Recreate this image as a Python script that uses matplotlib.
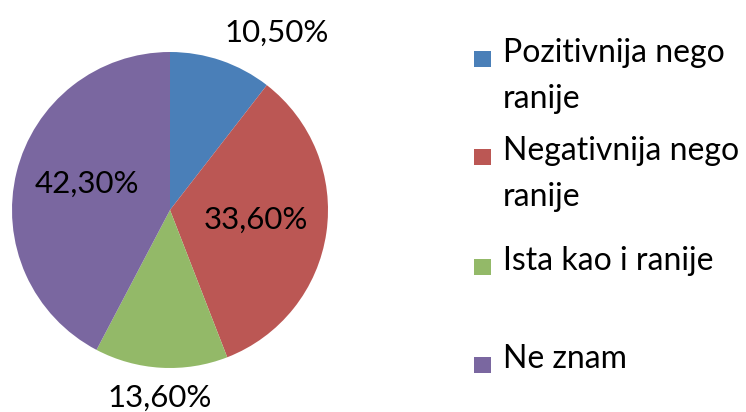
import matplotlib
matplotlib.use('Agg')

import numpy as np
import matplotlib.pyplot as plt
from matplotlib.patches import Rectangle

categories = ['Pozitivnija nego\nranije', 'Negativnija nego\nranije', 'Ista kao i ranije', 'Ne znam']
shares = [10.5, 33.6, 13.6, 42.3]
colors = ['#4a7fb8', '#bb5754', '#93b968', '#7a67a0']

# label placement: distance from centre (radius units) and angle tweak (deg)
label_dist = [1.31, 0.55, 1.19, 0.55]
label_turn = [-12, 2, 0, -4]

W, H = 746, 412
fig = plt.figure(figsize=(W / 100, H / 100), dpi=100)
plt.rcParams['font.family'] = ['Lato', 'DejaVu Sans']

cx, cy, r = 170, 210, 158
ax = fig.add_axes([(cx - r) / W, (H - cy - r) / H, 2 * r / W, 2 * r / H])
wedges, _ = ax.pie(shares, colors=colors, startangle=90, counterclock=False,
                   wedgeprops=dict(linewidth=0))
ax.set_xlim(-1, 1)
ax.set_ylim(-1, 1)
ax.axis('off')

for w, v, d, t in zip(wedges, shares, label_dist, label_turn):
    mid = np.deg2rad((w.theta1 + w.theta2) / 2 + t)
    ax.text(d * np.cos(mid), d * np.sin(mid), f'{v:.2f}%'.replace('.', ','),
            ha='center', va='center', fontsize=22.5, color='black', clip_on=False)

# legend drawn by hand to mimic the Excel layout
lx, tx = 474, 503
rows_y = [59, 157, 267, 365]
for c, lab, y in zip(colors, categories, rows_y):
    fig.add_artist(Rectangle((lx / W, (H - y - 8) / H), 17 / W, 16 / H,
                             transform=fig.transFigure, color=c, lw=0))
    for i, line in enumerate(lab.split('\n')):
        ly = y - 6 + i * 46
        fig.text(tx / W, (H - ly) / H, line, ha='left', va='center', fontsize=23)

fig.savefig('out.png', dpi=100)
